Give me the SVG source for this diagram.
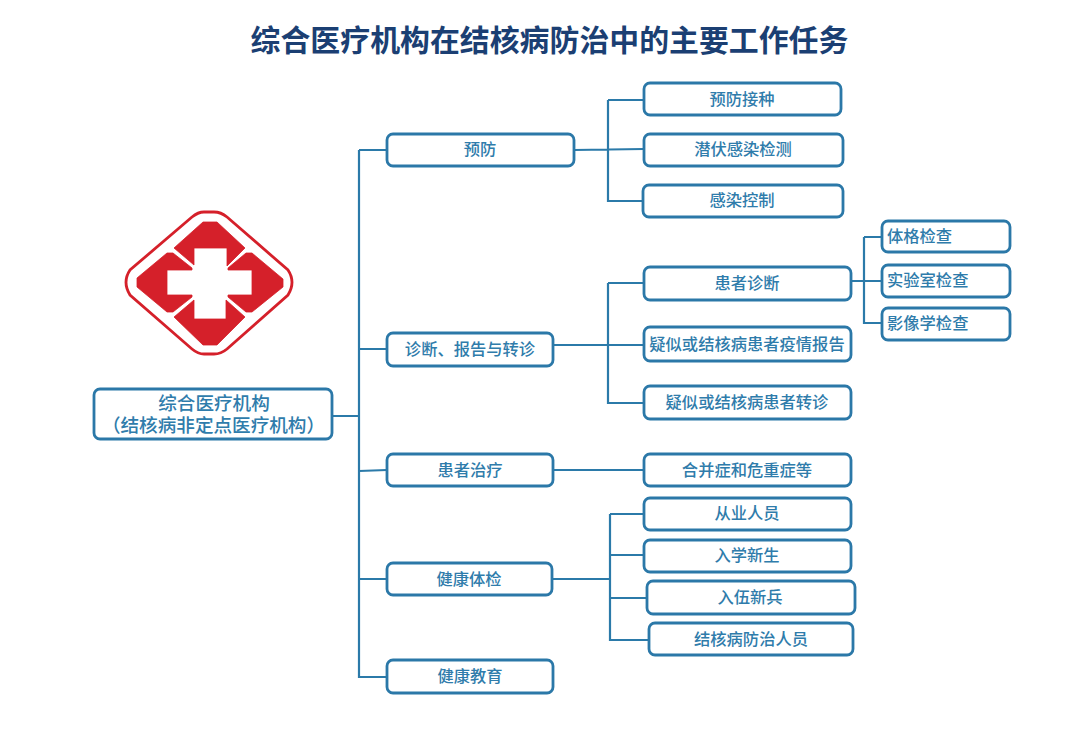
<svg xmlns="http://www.w3.org/2000/svg" width="1080" height="737" viewBox="0 0 1080 737">
<style>
text{font-family:"Noto Sans CJK SC","Noto Sans",sans-serif;fill:#2f7cab;font-size:16.3px;font-weight:500;text-anchor:middle;dominant-baseline:central}
.b{fill:#fff;stroke:#2b78a8;stroke-width:2.8}
.c{fill:none;stroke:#2b7aa9;stroke-width:2.2}
.l{text-anchor:start}
.r{font-size:18.6px}
.q{fill:#d5202a;stroke:#d5202a;stroke-width:.8;stroke-linejoin:round}
</style>
<rect width="1080" height="737" fill="#fff"/>
<text id="title" x="549.5" y="37.5" style="font-size:29.9px;font-weight:700;fill:#1b3f73">综合医疗机构在结核病防治中的主要工作任务</text>
<g id="logo">
<path d="M192 217Q198 212 204 212H214Q221 212 227 217L288 270Q296 282 288 295L227 349Q221 354 214 354H204Q198 354 192 349L130 295Q122 282 130 270Z" fill="none" stroke="#d5202a" stroke-width="2.8"/>
<path class="q" d="M174 248L203 222H217L245 248L227 266V248H194V265Z"/>
<path class="q" d="M174 317L194 300V319H226V300L245 317L217 345H203Z"/>
<path class="q" d="M137 278L167 253H173L192 268V270H167V295H192V297L173 312H167L137 287Z"/>
<path class="q" d="M283 279L252 253H246L228 268V270H252V295H228V297L246 312H252L283 287Z"/>
</g>
<g id="connectors" class="c">
<path d="M332 416H359M359 150V677H387M359 150H387M359 349H387M359 471L387 470M359 579H387"/>
<path d="M574 150L644 149M608 100H644M608 100V201H643"/>
<path d="M553 345H608M608 283V403H644M608 283H644M608 345H644"/>
<path d="M553 470H644"/>
<path d="M552 579H610M610 514V640H649M610 514H644M610 555H644M610 598H647"/>
<path d="M851 281H882M864 237V323H882M864 237H882"/>
</g>
<g id="root"><rect class="b" x="94" y="389" width="238" height="50" rx="6"/><text class="r" x="213.5"><tspan x="214" y="400.5">综合医疗机构</tspan><tspan x="213.5" y="422.5">（结核病非定点医疗机构）</tspan></text></g>
<g id="n1"><rect class="b" x="387" y="134" width="187" height="32" rx="6"/><text x="480" y="147.5">预防</text></g>
<g id="n2"><rect class="b" x="387" y="333" width="166" height="33" rx="6"/><text x="470" y="347.5">诊断、报告与转诊</text></g>
<g id="n3"><rect class="b" x="387" y="454" width="166" height="32" rx="6"/><text x="470" y="468.5">患者治疗</text></g>
<g id="n4"><rect class="b" x="387" y="563" width="165" height="32" rx="6"/><text x="469" y="577.5">健康体检</text></g>
<g id="n5"><rect class="b" x="387" y="660" width="166" height="33" rx="6"/><text x="470" y="674.5">健康教育</text></g>
<g id="n11"><rect class="b" x="644" y="83" width="197" height="32" rx="6"/><text x="742" y="97.5">预防接种</text></g>
<g id="n12"><rect class="b" x="644" y="134" width="199" height="32" rx="6"/><text x="743" y="147.5">潜伏感染检测</text></g>
<g id="n13"><rect class="b" x="643" y="185" width="200" height="32" rx="6"/><text x="742" y="198.5">感染控制</text></g>
<g id="n21"><rect class="b" x="644" y="267" width="207" height="33" rx="6"/><text x="747" y="281.5">患者诊断</text></g>
<g id="n22"><rect class="b" x="644" y="327" width="207" height="34" rx="6"/><text x="747" y="342.5">疑似或结核病患者疫情报告</text></g>
<g id="n23"><rect class="b" x="644" y="386" width="207" height="33" rx="6"/><text x="747" y="400.5">疑似或结核病患者转诊</text></g>
<g id="n31"><rect class="b" x="644" y="454" width="207" height="32" rx="6"/><text x="747" y="468.5">合并症和危重症等</text></g>
<g id="n41"><rect class="b" x="644" y="498" width="207" height="32" rx="6"/><text x="747" y="511.5">从业人员</text></g>
<g id="n42"><rect class="b" x="644" y="540" width="207" height="32" rx="6"/><text x="747" y="553.5">入学新生</text></g>
<g id="n43"><rect class="b" x="647" y="581" width="208" height="33" rx="6"/><text x="750" y="595.5">入伍新兵</text></g>
<g id="n44"><rect class="b" x="649" y="623" width="204" height="32" rx="6"/><text x="751" y="637.5">结核病防治人员</text></g>
<g id="n211"><rect class="b" x="882" y="221" width="128" height="31" rx="6"/><text class="l" x="887" y="234.5">体格检查</text></g>
<g id="n212"><rect class="b" x="882" y="265" width="128" height="32" rx="6"/><text class="l" x="887" y="278.5">实验室检查</text></g>
<g id="n213"><rect class="b" x="882" y="308" width="128" height="32" rx="6"/><text class="l" x="887" y="321.5">影像学检查</text></g>
</svg>
